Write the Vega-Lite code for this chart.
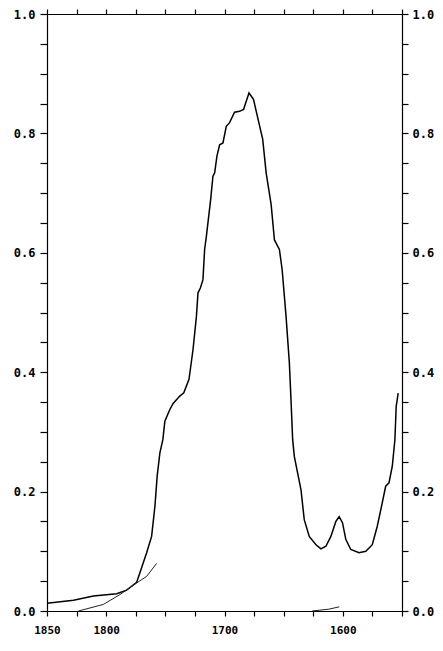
{
  "$schema": "https://vega.github.io/schema/vega-lite/v6.json",
  "autosize": "none",
  "padding": {"left": 47, "top": 14, "right": 41, "bottom": 40},
  "width": 355,
  "height": 597,
  "background": "white",
  "config": {
    "view": {"stroke": null},
    "axis": {
      "grid": false,
      "domainColor": "black",
      "domainWidth": 1.2,
      "tickColor": "black",
      "tickWidth": 1.2,
      "labelFont": "DejaVu Sans Mono",
      "labelFontWeight": "bold",
      "labelFontSize": 11,
      "labelColor": "black",
      "labelOverlap": false,
      "labelBound": false,
      "labelFlush": false,
      "title": null
    }
  },
  "datasets": {
    "main": [
      {"x": 1850, "y": 0.013}, {"x": 1827.6, "y": 0.018}, {"x": 1810.8, "y": 0.025},
      {"x": 1791.1, "y": 0.029}, {"x": 1782.7, "y": 0.035}, {"x": 1774.2, "y": 0.048},
      {"x": 1771.5, "y": 0.064}, {"x": 1765.8, "y": 0.0975}, {"x": 1761.6, "y": 0.125},
      {"x": 1758.8, "y": 0.1755}, {"x": 1756.9, "y": 0.226}, {"x": 1754.6, "y": 0.265},
      {"x": 1752.1, "y": 0.287}, {"x": 1750.4, "y": 0.318}, {"x": 1746.2, "y": 0.3375},
      {"x": 1743.4, "y": 0.3476}, {"x": 1737.8, "y": 0.36}, {"x": 1734.4, "y": 0.3655},
      {"x": 1730, "y": 0.388}, {"x": 1726.6, "y": 0.438}, {"x": 1723.7, "y": 0.494},
      {"x": 1722.4, "y": 0.533}, {"x": 1720.4, "y": 0.541}, {"x": 1718.2, "y": 0.555},
      {"x": 1716.8, "y": 0.6055}, {"x": 1715.3, "y": 0.628}, {"x": 1711.7, "y": 0.689},
      {"x": 1709.8, "y": 0.728}, {"x": 1708.3, "y": 0.734}, {"x": 1706.4, "y": 0.762},
      {"x": 1704.1, "y": 0.781}, {"x": 1701.3, "y": 0.784}, {"x": 1698.5, "y": 0.812},
      {"x": 1695.7, "y": 0.818}, {"x": 1691.5, "y": 0.8355}, {"x": 1687.3, "y": 0.837},
      {"x": 1683.9, "y": 0.84}, {"x": 1679.3, "y": 0.8677}, {"x": 1675.5, "y": 0.857},
      {"x": 1671.9, "y": 0.826}, {"x": 1667.7, "y": 0.79}, {"x": 1664.8, "y": 0.734},
      {"x": 1660.6, "y": 0.681}, {"x": 1657.8, "y": 0.6215}, {"x": 1653.6, "y": 0.6055},
      {"x": 1651.3, "y": 0.572}, {"x": 1648, "y": 0.494}, {"x": 1645.2, "y": 0.416},
      {"x": 1643.8, "y": 0.354}, {"x": 1642.4, "y": 0.287}, {"x": 1641, "y": 0.259},
      {"x": 1635.4, "y": 0.2035}, {"x": 1632.6, "y": 0.153}, {"x": 1628.4, "y": 0.125},
      {"x": 1622.7, "y": 0.111}, {"x": 1618.5, "y": 0.104}, {"x": 1614.3, "y": 0.1085},
      {"x": 1610.1, "y": 0.125}, {"x": 1605.9, "y": 0.15}, {"x": 1603.1, "y": 0.158},
      {"x": 1600.3, "y": 0.148}, {"x": 1597.5, "y": 0.12}, {"x": 1593.3, "y": 0.103},
      {"x": 1586.3, "y": 0.0975}, {"x": 1580.6, "y": 0.1}, {"x": 1575.1, "y": 0.111},
      {"x": 1570.9, "y": 0.142}, {"x": 1566.7, "y": 0.181}, {"x": 1563.8, "y": 0.209},
      {"x": 1561, "y": 0.2147}, {"x": 1558.2, "y": 0.2425}, {"x": 1556, "y": 0.287},
      {"x": 1554.9, "y": 0.343}, {"x": 1553.2, "y": 0.365}
    ],
    "thin": [
      {"s": "a", "x": 1823.4, "y": 0.0}, {"s": "a", "x": 1802.4, "y": 0.011},
      {"s": "a", "x": 1788.3, "y": 0.0276}, {"s": "a", "x": 1774.2, "y": 0.047},
      {"s": "a", "x": 1765.8, "y": 0.058}, {"s": "a", "x": 1757.4, "y": 0.0796},
      {"s": "b", "x": 1626, "y": 0.0}, {"s": "b", "x": 1612, "y": 0.003},
      {"s": "b", "x": 1603, "y": 0.007}
    ]
  },
  "layer": [
    {
      "data": {"name": "main"},
      "mark": {"type": "line", "color": "black", "strokeWidth": 1.5},
      "encoding": {
        "x": {
          "field": "x", "type": "quantitative",
          "scale": {"domain": [1550, 1850], "reverse": true, "nice": false, "zero": false},
          "axis": {
            "orient": "bottom",
            "values": [1850, 1825, 1800, 1775, 1750, 1725, 1700, 1675, 1650, 1625, 1600, 1575, 1550],
            "format": "d",
            "labelExpr": "indexof([1850, 1800, 1700, 1600], datum.value) >= 0 ? datum.label : ''",
            "tickSize": 5,
            "labelPadding": 8
          }
        },
        "y": {
          "field": "y", "type": "quantitative",
          "scale": {"domain": [0, 1], "nice": false},
          "axis": {
            "orient": "left",
            "values": [0, 0.05, 0.1, 0.15, 0.2, 0.25, 0.3, 0.35, 0.4, 0.45, 0.5, 0.55, 0.6, 0.65, 0.7, 0.75, 0.8, 0.85, 0.9, 0.95, 1],
            "format": ".1f",
            "labelExpr": "round(datum.value * 100) % 20 == 0 ? datum.label : ''",
            "labelFontSize": 12,
            "tickSize": 7,
            "labelPadding": 5
          }
        }
      }
    },
    {
      "data": {"name": "thin"},
      "mark": {"type": "line", "color": "#222222", "strokeWidth": 1},
      "encoding": {
        "detail": {"field": "s"},
        "x": {
          "field": "x", "type": "quantitative",
          "scale": {"domain": [1550, 1850], "reverse": true, "nice": false, "zero": false},
          "axis": {
            "orient": "top",
            "values": [1850, 1825, 1800, 1775, 1750, 1725, 1700, 1675, 1650, 1625, 1600, 1575, 1550],
            "labels": false,
            "tickSize": 5
          }
        },
        "y": {
          "field": "y", "type": "quantitative",
          "scale": {"domain": [0, 1], "nice": false},
          "axis": {
            "orient": "right",
            "values": [0, 0.05, 0.1, 0.15, 0.2, 0.25, 0.3, 0.35, 0.4, 0.45, 0.5, 0.55, 0.6, 0.65, 0.7, 0.75, 0.8, 0.85, 0.9, 0.95, 1],
            "format": ".1f",
            "labelExpr": "round(datum.value * 100) % 20 == 0 ? datum.label : ''",
            "labelFontSize": 12,
            "tickSize": 6,
            "labelPadding": 4
          }
        }
      }
    }
  ],
  "resolve": {"axis": {"x": "independent", "y": "independent"}}
}
